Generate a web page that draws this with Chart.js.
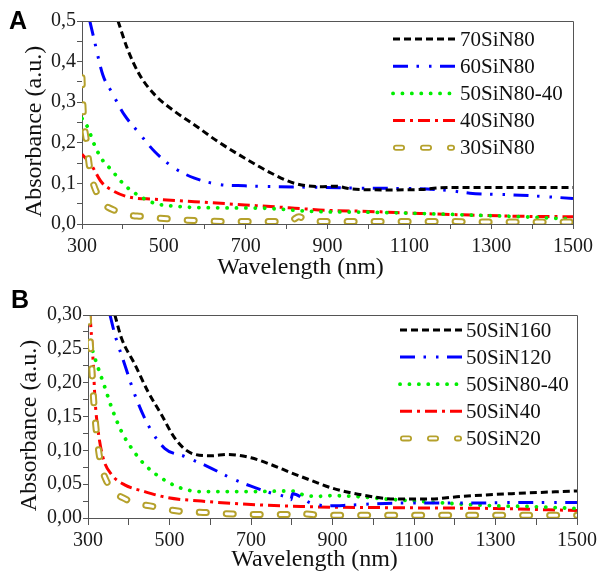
<!DOCTYPE html>
<html><head><meta charset="utf-8">
<script src="https://cdn.jsdelivr.net/npm/chart.js@4.4.0/dist/chart.umd.min.js"></script>
<style>
html,body{margin:0;padding:0;background:#fff;}
#wrap{position:relative;width:601px;height:576px;background:#fff;}
.pane{position:absolute;left:0;width:601px;height:288px;}
</style></head><body>
<div id="wrap">
<div class="pane" style="top:0"><canvas id="cA" width="601" height="288"></canvas></div>
<div class="pane" style="top:288px"><canvas id="cB" width="601" height="288"></canvas></div>
</div>
<script>
// ---------- Panel A data ----------
const aLabels = ['70SiN80', '60SiN80', '50SiN80-40', '40SiN80', '30SiN80'];
const a70X = [388, 412, 441, 478, 527, 575, 632, 698, 763, 820, 880, 920, 960, 1050, 1130, 1170, 1250, 1350, 1500];
const a70Y = [0.50, 0.429, 0.367, 0.318, 0.277, 0.244, 0.203, 0.162, 0.125, 0.100, 0.092, 0.093, 0.086, 0.084, 0.085, 0.089, 0.090, 0.090, 0.090];
const a60X = [319, 327, 351, 372, 404, 437, 478, 527, 575, 632, 698, 779, 893, 1000, 1126, 1200, 1248, 1371, 1500];
const a60Y = [0.50, 0.466, 0.367, 0.326, 0.268, 0.227, 0.178, 0.137, 0.113, 0.098, 0.094, 0.092, 0.090, 0.088, 0.087, 0.082, 0.076, 0.071, 0.063];
const a5040X = [300, 315, 327, 347, 372, 404, 437, 478, 535, 616, 738, 861, 1000, 1126, 1250, 1371, 1500];
const a5040Y = [0.260, 0.236, 0.203, 0.162, 0.133, 0.096, 0.071, 0.051, 0.043, 0.040, 0.039, 0.031, 0.029, 0.026, 0.022, 0.018, 0.012];
const a40X = [300, 323, 347, 372, 412, 478, 575, 698, 820, 893, 1000, 1126, 1250, 1371, 1500];
const a40Y = [0.172, 0.145, 0.104, 0.084, 0.067, 0.061, 0.055, 0.047, 0.039, 0.034, 0.031, 0.026, 0.022, 0.019, 0.018];
const a30X = [300, 303, 311, 319, 339, 388, 453, 518, 584, 657, 722, 790, 815, 830, 850, 900, 1000, 1100, 1200, 1300, 1400, 1500];
const a30Y = [0.36, 0.277, 0.203, 0.137, 0.071, 0.030, 0.018, 0.012, 0.008, 0.006, 0.006, 0.006, 0.010, 0.018, 0.008, 0.006, 0.006, 0.006, 0.006, 0.005, 0.005, 0.005];

// ---------- Panel B data ----------
const bLabels = ['50SiN160', '50SiN120', '50SiN80-40', '50SiN40', '50SiN20'];
const b160X = [366, 382, 415, 447, 480, 513, 553, 602, 643, 700, 749, 798, 863, 900, 973, 1055, 1136, 1218, 1340, 1500];
const b160Y = [0.30, 0.266, 0.227, 0.187, 0.153, 0.118, 0.096, 0.092, 0.094, 0.089, 0.079, 0.067, 0.052, 0.044, 0.034, 0.028, 0.028, 0.032, 0.036, 0.040];
const b120X = [354, 366, 390, 415, 447, 488, 537, 594, 651, 700, 749, 790, 798, 802, 847, 896, 940, 1055, 1218, 1380, 1500];
const b120Y = [0.30, 0.271, 0.227, 0.182, 0.138, 0.103, 0.091, 0.076, 0.059, 0.047, 0.037, 0.030, 0.027, 0.036, 0.022, 0.018, 0.019, 0.022, 0.022, 0.023, 0.023];
const b8040X = [305, 317, 342, 358, 382, 407, 439, 480, 529, 578, 700, 798, 830, 863, 900, 1055, 1177, 1299, 1380, 1500];
const b8040Y = [0.26, 0.236, 0.192, 0.163, 0.128, 0.103, 0.079, 0.059, 0.044, 0.039, 0.039, 0.040, 0.034, 0.032, 0.033, 0.027, 0.022, 0.018, 0.017, 0.014];
const b40X = [305, 313, 317, 325, 337, 358, 390, 439, 496, 578, 700, 822, 900, 1100, 1300, 1500];
const b40Y = [0.30, 0.227, 0.177, 0.128, 0.089, 0.064, 0.049, 0.039, 0.030, 0.025, 0.020, 0.017, 0.016, 0.015, 0.014, 0.011];
const b20X = [300, 307, 313, 319, 329, 346, 395, 460, 525, 590, 655, 729, 790, 800, 850, 900, 1100, 1300, 1500];
const b20Y = [0.30, 0.246, 0.182, 0.137, 0.088, 0.054, 0.027, 0.017, 0.010, 0.008, 0.006, 0.005, 0.005, 0.008, 0.005, 0.004, 0.004, 0.004, 0.004];

// ---------- tick labels ----------
const xTickLabels = ['300', '500', '700', '900', '1100', '1300', '1500'];
const aYTickLabels = ['0,0', '0,1', '0,2', '0,3', '0,4', '0,5'];
const bYTickLabels = ['0,00', '0,05', '0,10', '0,15', '0,20', '0,25', '0,30'];

const SERIF = "'Liberation Serif', 'Times New Roman', serif";
const OLIVE = '#b5a12c';
const styles = [
  {color: '#000000', width: 3, dash: [7, 4], cap: 'butt'},
  {color: '#0000ff', width: 3, dash: [15, 8.5, 2.5, 10, 2.5, 8.5], cap: 'butt'},
  {color: '#00ee00', width: 3.8, dash: [0.1, 9.3], cap: 'round'},
  {color: '#ff0000', width: 3, dash: [12, 5, 3, 5], cap: 'butt'},
  {color: OLIVE, width: 7, dash: [7, 20], cap: 'round'}
];
const INNER_W = 3;

function pts(xs, ys) { return xs.map((x, i) => ({x: x, y: ys[i]})); }

function makeDatasets(labels, series) {
  const ds = series.map((s, i) => ({
    label: labels[i],
    data: pts(s[0], s[1]),
    borderColor: styles[i].color,
    borderWidth: styles[i].width,
    borderDash: styles[i].dash,
    borderCapStyle: styles[i].cap,
    cubicInterpolationMode: 'monotone',
    pointRadius: 0,
    fill: false,
    order: 2 + i,
    isLegend: true
  }));
  ds[4].order = 1;
  const last = series[4];
  ds.push({
    label: '',
    data: pts(last[0], last[1]),
    borderColor: '#ffffff',
    borderWidth: INNER_W,
    borderDash: styles[4].dash,
    borderCapStyle: 'round',
    cubicInterpolationMode: 'monotone',
    pointRadius: 0,
    fill: false,
    order: 0,
    isLegend: false
  });
  return ds;
}

const framePlugin = {
  id: 'frame',
  afterDatasetsDraw(chart) {
    const a = chart.chartArea, ctx = chart.ctx;
    ctx.save();
    ctx.strokeStyle = '#555';
    ctx.lineWidth = 1;
    ctx.beginPath();
    ctx.moveTo(a.left, a.top + 0.5);
    ctx.lineTo(a.right + 0.5, a.top + 0.5);
    ctx.lineTo(a.right + 0.5, a.bottom);
    ctx.stroke();
    ctx.restore();
  }
};

const dashLegend = {
  id: 'dashLegend',
  afterDraw(chart, args, opts) {
    const ctx = chart.ctx;
    ctx.save();
    let row = 0;
    chart.data.datasets.forEach(ds => {
      if (!ds.isLegend) return;
      const y = opts.y0 + row * opts.dy;
      const x0 = opts.x0, x1 = opts.x0 + opts.len;
      const drawSeg = (color, w) => {
        ctx.strokeStyle = color; ctx.lineWidth = w;
        ctx.setLineDash(ds.borderDash); ctx.lineDashOffset = 0;
        ctx.lineCap = ds.borderCapStyle;
        ctx.beginPath(); ctx.moveTo(x0, y); ctx.lineTo(x1, y); ctx.stroke();
      };
      if (ds.borderColor === OLIVE) {
        ctx.strokeStyle = OLIVE; ctx.lineWidth = 6; ctx.setLineDash([6, 21]); ctx.lineCap = 'round';
        ctx.beginPath(); ctx.moveTo(x0 + 3, y); ctx.lineTo(x1 - 3, y); ctx.stroke();
        ctx.strokeStyle = '#ffffff'; ctx.lineWidth = 2.4;
        ctx.beginPath(); ctx.moveTo(x0 + 3, y); ctx.lineTo(x1 - 3, y); ctx.stroke();
      } else {
        drawSeg(ds.borderColor, ds.borderWidth);
      }
      ctx.setLineDash([]);
      ctx.fillStyle = '#111';
      ctx.font = '21px ' + SERIF;
      ctx.textAlign = 'left';
      ctx.textBaseline = 'middle';
      ctx.fillText(ds.label, opts.tx, y + 1);
      row++;
    });
    ctx.fillStyle = '#000';
    ctx.font = 'bold 25px "Liberation Sans", Arial, sans-serif';
    ctx.textAlign = 'left';
    ctx.textBaseline = 'alphabetic';
    ctx.fillText(opts.panel, opts.px, opts.py);
    ctx.restore();
  }
};

function labelFor(list, step, v, min) {
  const k = (v - min) / step;
  const r = Math.round(k);
  if (Math.abs(k - r) > 1e-6) return '';
  return list[r] !== undefined ? list[r] : '';
}

function makeChart(id, cfg) {
  return new Chart(document.getElementById(id), {
    type: 'line',
    data: {datasets: cfg.datasets},
    options: {
      responsive: false,
      animation: false,
      devicePixelRatio: 1,
      layout: {padding: {top: cfg.padTop, right: cfg.padRight, bottom: 0, left: 0}},
      plugins: {
        legend: {display: false},
        tooltip: {enabled: false},
        dashLegend: cfg.legend
      },
      scales: {
        x: {
          type: 'linear', min: 300, max: 1500,
          afterFit(s) { s.height = cfg.xHeight; },
          border: {color: '#555', width: 1},
          grid: {drawOnChartArea: false, drawTicks: true, tickLength: cfg.tickLen, tickColor: '#555', tickWidth: 1},
          ticks: {
            stepSize: 100, autoSkip: false, maxRotation: 0, padding: 11 - cfg.tickLen,
            color: '#1a1a1a', font: {family: SERIF, size: 20},
            callback: v => labelFor(xTickLabels, 200, v, 300)
          },
          title: {display: true, text: cfg.xTitle, color: '#111',
            font: {family: SERIF, size: 24}, padding: {top: 0, bottom: cfg.xTitlePad}}
        },
        y: {
          type: 'linear', min: 0, max: cfg.yMax,
          afterFit(s) { s.width = cfg.yWidth; },
          border: {color: '#555', width: 1},
          grid: {drawOnChartArea: false, drawTicks: true, tickLength: 5, tickColor: '#555', tickWidth: 1},
          ticks: {
            stepSize: cfg.yStep, autoSkip: false, padding: 1,
            color: '#1a1a1a', font: {family: SERIF, size: 20},
            callback: v => labelFor(cfg.yLabels, cfg.yLabelStep, v, 0)
          },
          title: {display: true, text: cfg.yTitle, color: '#111',
            font: {family: SERIF, size: 24}, padding: {top: cfg.yTitlePad, bottom: 0}}
        }
      }
    },
    plugins: [framePlugin, dashLegend]
  });
}

makeChart('cA', {
  datasets: makeDatasets(aLabels, [[a70X, a70Y], [a60X, a60Y], [a5040X, a5040Y], [a40X, a40Y], [a30X, a30Y]]),
  padTop: 21, padRight: 28, xHeight: 64, yWidth: 82, tickLen: 5,
  yMax: 0.5, yStep: 0.05, yLabelStep: 0.1, yLabels: aYTickLabels,
  xTitle: 'Wavelength (nm)         ', xTitlePad: 5.6,
  yTitle: 'Absorbance (a.u.)   ', yTitlePad: 20.8,
  legend: {x0: 393, len: 62, y0: 39, dy: 27.2, tx: 460, panel: 'A', px: 9, py: 29}
});

makeChart('cB', {
  datasets: makeDatasets(bLabels, [[b160X, b160Y], [b120X, b120Y], [b8040X, b8040Y], [b40X, b40Y], [b20X, b20Y]]),
  padTop: 27, padRight: 22, xHeight: 58, yWidth: 88, tickLen: 7,
  yMax: 0.30, yStep: 0.025, yLabelStep: 0.05, yLabels: bYTickLabels,
  xTitle: 'Wavelength (nm)      ', xTitlePad: 1.6,
  yTitle: 'Absorbance (a.u.)   ', yTitlePad: 15.8,
  legend: {x0: 400, len: 62, y0: 42, dy: 27.1, tx: 466, panel: 'B', px: 11, py: 20}
});
</script>
</body></html>
